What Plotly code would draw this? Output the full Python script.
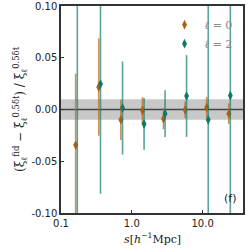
import plotly.graph_objects as go

# data
s_l0 = [0.161, 0.341, 0.70, 1.41, 2.80, 5.66, 11.4, 23.4]
y_l0 = [-0.0344, 0.0217, -0.010, -0.001, -0.009, -0.0003, 0.002, -0.004]
e_l0 = [0.069, 0.047, 0.0195, 0.013, 0.010, 0.008, 0.010, 0.010]

s_l2 = [0.170, 0.361, 0.74, 1.49, 2.95, 5.93, 12.0, 24.6]
y_l2 = [0.15, 0.0246, 0.0014, -0.014, -0.004, 0.013, -0.010, 0.0135]
e_l2 = [0.30, 0.106, 0.045, 0.025, 0.0225, 0.0395, 0.25, 0.25]

band = [-0.01, 0.01]
y_ticks = [-0.10, -0.05, 0.00, 0.05, 0.10]
y_tick_text = ["-0.10", "-0.05", "0.00", "0.05", "0.10"]
x_ticks = [0.1, 1.0, 10.0]
x_tick_text = ["0.1", "1.0", "10.0"]

c0 = "#b2600f"
c2 = "#0d7a6b"

fig = go.Figure()
fig.add_hrect(y0=band[0], y1=band[1], fillcolor="#c8c8c8", line_width=0, layer="below")
fig.add_hline(y=0, line=dict(color="#444444", width=1.5), layer="below")

fig.add_trace(go.Scatter(
    x=s_l0, y=y_l0, mode="markers", name="<i>ℓ</i> = 0",
    marker=dict(symbol="diamond-tall", size=7, color=c0),
    error_y=dict(type="data", array=e_l0, color="rgba(190,110,30,0.75)", thickness=1.6, width=0),
))
fig.add_trace(go.Scatter(
    x=s_l2, y=y_l2, mode="markers", name="<i>ℓ</i> = 2",
    marker=dict(symbol="diamond-tall", size=7, color=c2),
    error_y=dict(type="data", array=e_l2, color="rgba(20,125,110,0.7)", thickness=1.6, width=0),
))

fig.add_annotation(x=0.97, y=0.03, xref="paper", yref="paper", text="(f)",
                   showarrow=False, xanchor="right", yanchor="bottom",
                   font=dict(family="DejaVu Sans", size=11, color="#222"))
fig.add_annotation(x=0.5, y=-0.125, xref="paper", yref="paper",
                   text="<i>s</i>[<i>h</i><sup>−1</sup>Mpc]",
                   showarrow=False, xanchor="center", yanchor="middle",
                   font=dict(family="DejaVu Serif", size=11, color="#222"))

axis_common = dict(showline=True, linecolor="#333333", linewidth=1.5, mirror=True,
                   ticks="inside", ticklen=3, tickcolor="#333", showgrid=False, zeroline=False,
                   automargin=False,
                   tickfont=dict(family="DejaVu Sans", size=10, color="#222"))

fig.update_xaxes(type="log", range=[-1, 1.57], tickvals=x_ticks, ticktext=x_tick_text,
                 **axis_common)
fig.update_yaxes(range=[-0.10, 0.10], tickvals=y_ticks, ticktext=y_tick_text,
                 title=dict(text="(ξ<sub>ℓ</sub><sup>fid</sup> − ξ<sub>ℓ</sub><sup>0.5δt</sup>) / ξ<sub>ℓ</sub><sup>0.5δt</sup>",
                            standoff=4, font=dict(family="DejaVu Serif", size=12, color="#222")),
                 **axis_common)

fig.update_layout(
    width=249, height=249,
    margin=dict(l=61, r=6, t=6, b=36),
    paper_bgcolor="white", plot_bgcolor="white",
    showlegend=True,
    legend=dict(x=0.97, y=0.98, xanchor="right", yanchor="top", bgcolor="rgba(0,0,0,0)",
                font=dict(family="DejaVu Serif", size=11, color="#888888"),
                itemwidth=30, tracegroupgap=0),
)

fig.write_html("out.html", config={"displayModeBar": False},
               post_script="document.body.style.margin='0';document.body.style.overflow='hidden';")
